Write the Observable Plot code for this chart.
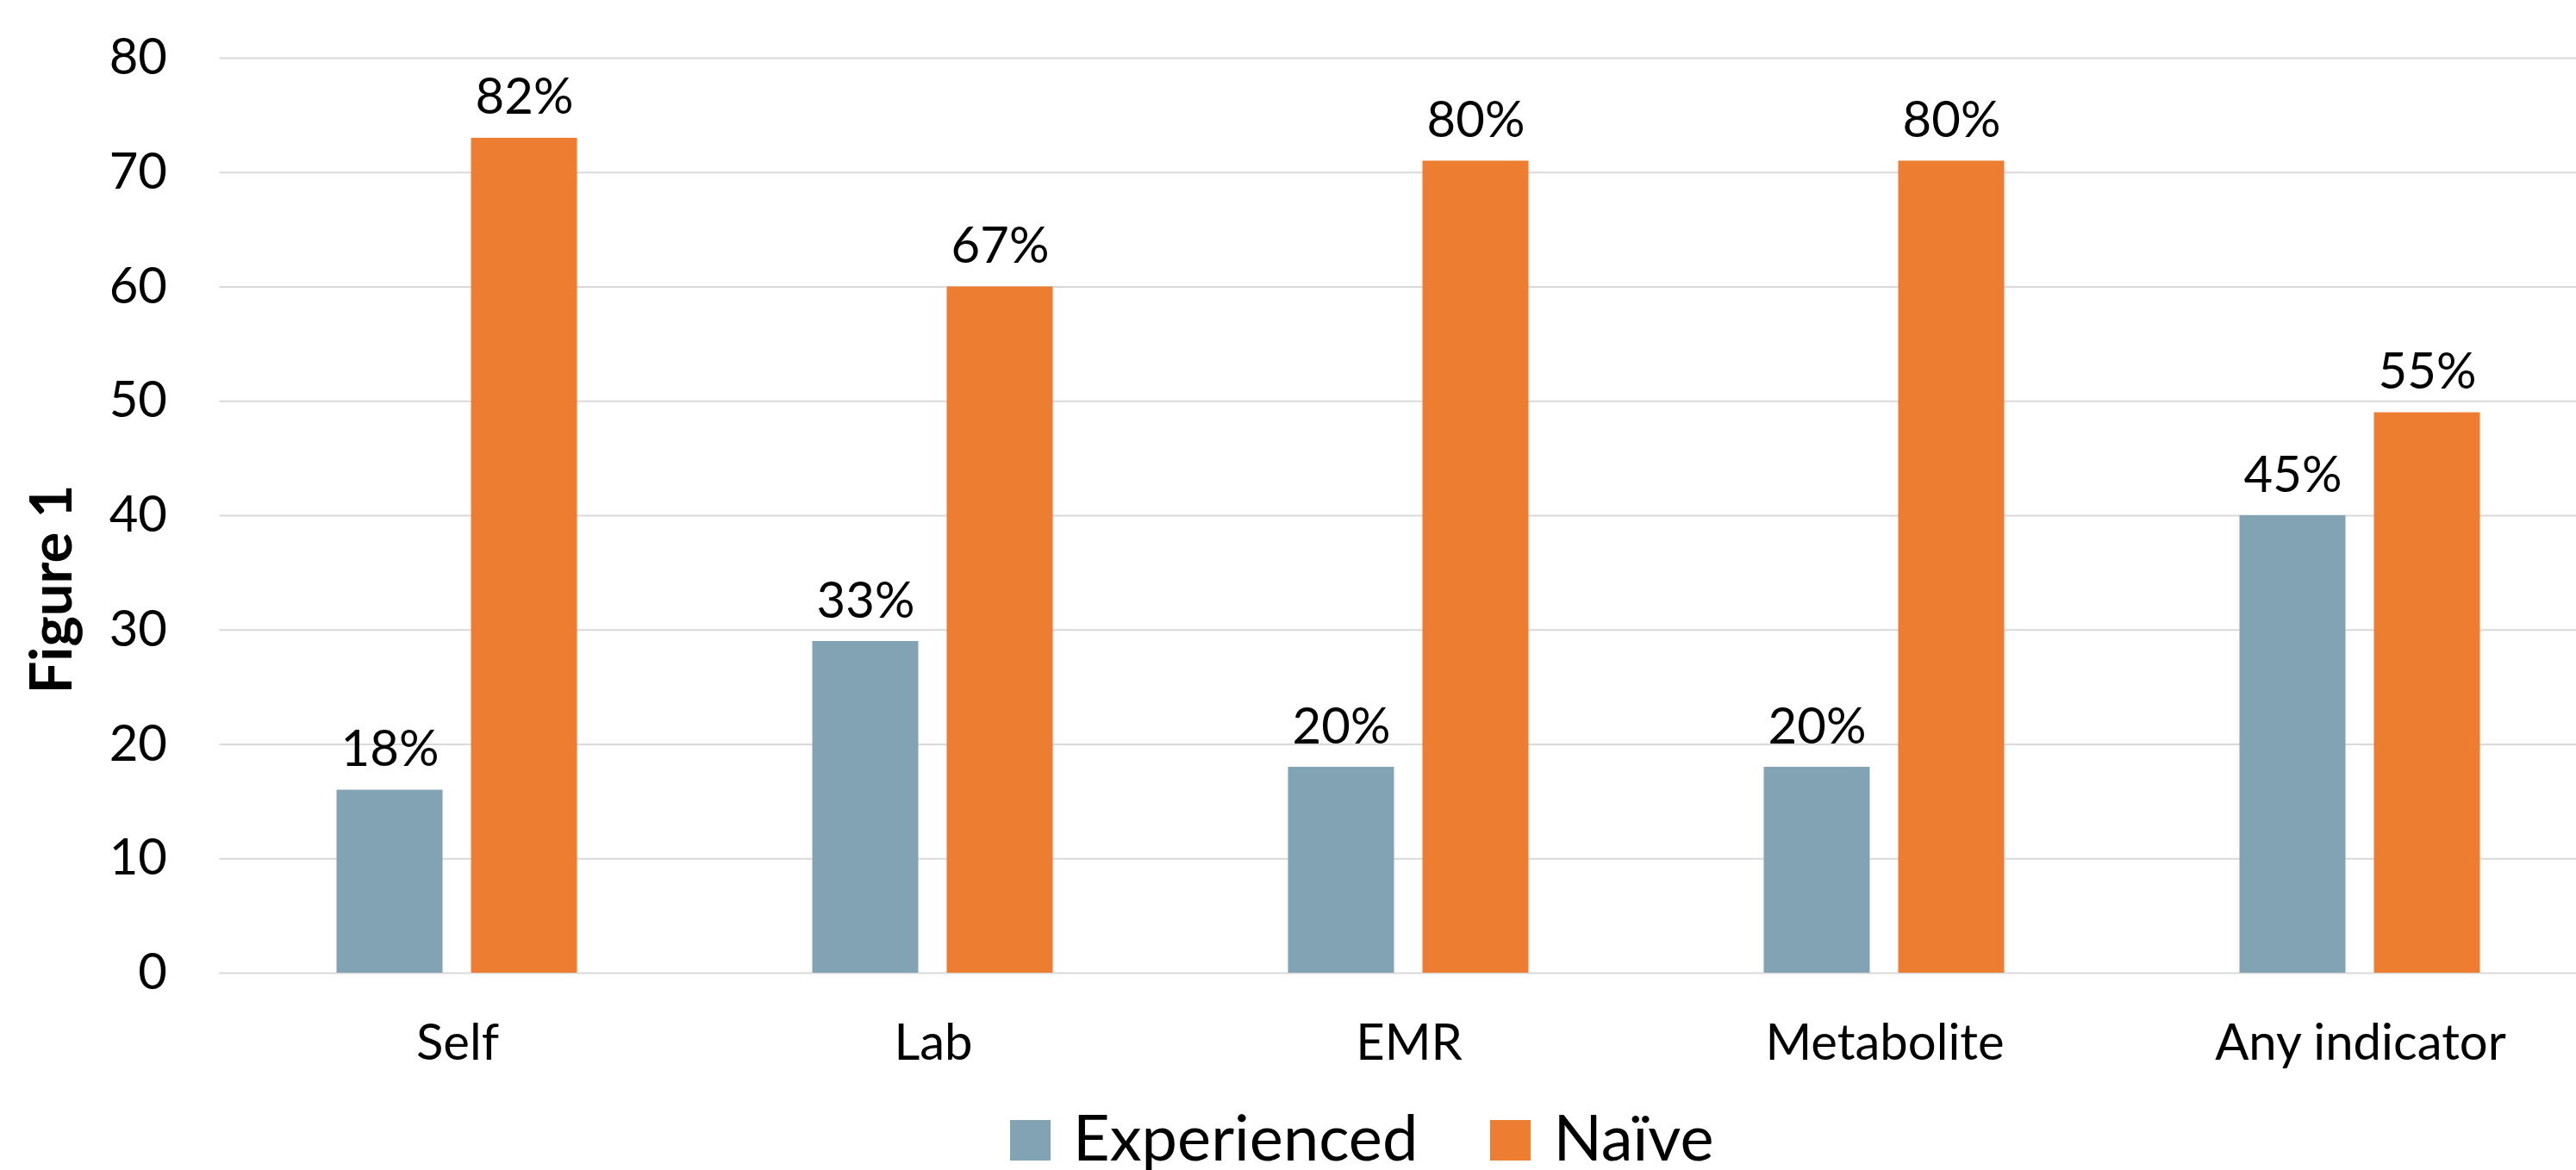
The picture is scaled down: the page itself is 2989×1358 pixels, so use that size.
<!DOCTYPE html>
<html>
<head>
<meta charset="utf-8">
<script src="https://cdn.jsdelivr.net/npm/d3@7"></script>
<script src="https://cdn.jsdelivr.net/npm/@observablehq/plot@0.6"></script>
<style>
  html, body { margin: 0; padding: 0; background: #fff; overflow: hidden; width: 2989px; height: 1358px; position: relative; font-family: Lato, sans-serif; color: #000; }
  .layer { position: absolute; left: 0; top: 0; }
  .layer svg { max-width: none !important; height: 1275px !important; width: 3015px !important; }
  #ylabel { position: absolute; left: 24px; top: 684px; transform-origin: 0 0; transform: rotate(-90deg) translateX(-50%); font-weight: bold; font-size: 67px; line-height: 1; white-space: nowrap; }
  #legend { position: absolute; left: 1172px; top: 1275px; font-size: 74px; line-height: 1.2; white-space: nowrap; display: flex; }
  #legend .item { margin-right: 84px; }
  #legend .sw { display: inline-block; width: 47px; height: 47px; margin-right: 26px; vertical-align: baseline; }
</style>
</head>
<body>
<div id="grid" class="layer"></div>
<div id="chart" class="layer"></div>
<div id="ylabel">Figure 1</div>
<div id="legend"></div>
<script>
const categories = ["Self", "Lab", "EMR", "Metabolite", "Any indicator"];
const series = ["Experienced", "Naïve"];
const experienced = [16, 29, 18, 18, 40];
const naive = [73, 60, 71, 71, 49];
const experiencedLabels = ["18%", "33%", "20%", "20%", "45%"];
const naiveLabels = ["82%", "67%", "80%", "80%", "55%"];
const yTicks = [0, 10, 20, 30, 40, 50, 60, 70, 80];
const colors = ["#82A3B3", "#ED7D31"];

const data = [];
categories.forEach((c, i) => {
  data.push({category: c, series: series[0], value: experienced[i], label: experiencedLabels[i]});
  data.push({category: c, series: series[1], value: naive[i], label: naiveLabels[i]});
});

const common = {
  width: 3015,
  height: 1275,
  marginLeft: 254.5,
  marginRight: 0,
  marginTop: 67,
  marginBottom: 146,
  style: {fontFamily: "Lato", fontSize: "58px", color: "#000", background: "transparent", overflow: "visible", maxWidth: "none"}
};

// Background layer: continuous gridlines and y axis
const grid = Plot.plot({
  ...common,
  y: {domain: [0, 80]},
  marks: [
    Plot.ruleY(yTicks, {stroke: "#d9d9d9", strokeWidth: 2}),
    Plot.axisY({ticks: yTicks, tickSize: 0, tickPadding: 61, label: null, fontSize: 58})
  ]
});
document.getElementById("grid").appendChild(grid);

// Foreground layer: grouped bars, labels, category axis
const chart = Plot.plot({
  ...common,
  fx: {domain: categories, paddingInner: 0.491, paddingOuter: 0.2455, label: null},
  x: {domain: series, paddingInner: 0.21, paddingOuter: 0, axis: null},
  y: {domain: [0, 80], axis: null},
  color: {domain: series, range: colors},
  marks: [
    Plot.axisFx({anchor: "bottom", tickSize: 0, tickPadding: 59, label: null, fontSize: 58}),
    Plot.barY(data, {fx: "category", x: "series", y: "value", fill: "series"}),
    Plot.text(data, {fx: "category", x: "series", y: "value", text: "label", lineAnchor: "bottom", dy: -28, fontSize: 58, fill: "#000"})
  ]
});
document.getElementById("chart").appendChild(chart);

const legend = document.getElementById("legend");
series.forEach((s, i) => {
  const item = document.createElement("div");
  item.className = "item";
  const sw = document.createElement("span");
  sw.className = "sw";
  sw.style.background = colors[i];
  item.appendChild(sw);
  item.appendChild(document.createTextNode(s));
  legend.appendChild(item);
});
</script>
</body>
</html>
